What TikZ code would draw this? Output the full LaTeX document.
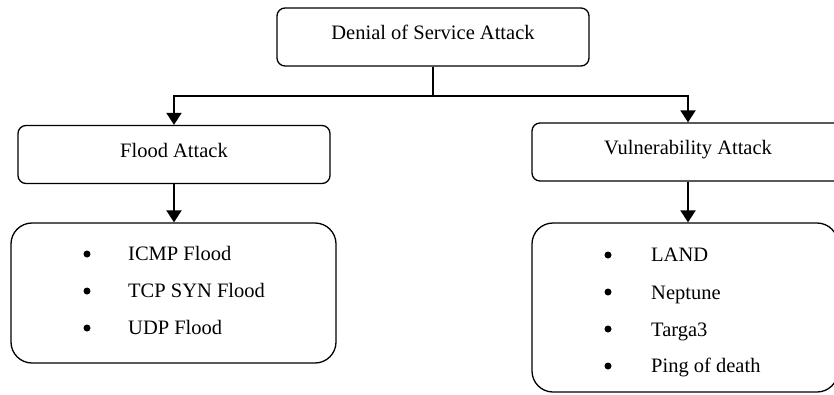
\documentclass[tikz,border=0pt]{standalone}
\usepackage{fontspec}
\setmainfont{Liberation Serif}
\usetikzlibrary{arrows.meta}
\begin{document}
\begin{tikzpicture}[x=1pt,y=-1pt,
  font=\fontsize{20.5}{24}\selectfont,
  hbox/.style={draw, line width=1.3pt, rounded corners=8pt, minimum width=312pt, minimum height=58pt, inner sep=0pt, text height=12pt, text depth=7pt},
  lbox/.style={draw, line width=1.3pt, rounded corners=21pt, inner sep=0pt},
  conn/.style={line width=2pt},
  arr/.style={line width=2pt, -{Triangle[length=12pt,width=15pt]}},
  bul/.style={circle, fill=black, inner sep=0pt, minimum size=7pt},
  item/.style={anchor=base west, inner sep=0pt}]
\useasboundingbox (0,0) rectangle (834,394);
\clip (0,0) rectangle (834,394);
% headline boxes
\node[hbox] (top) at (433,37) {Denial of Service Attack};
\node[hbox] (flood) at (174,154.5) {Flood Attack};
\node[hbox] (vuln) at (688,152) {Vulnerability Attack};
% list boxes
\node[lbox, minimum width=325pt, minimum height=140pt] (llist) at (173.5,293) {};
\node[lbox, minimum width=306pt, minimum height=169pt] (rlist) at (685,307.5) {};
% connectors
\coordinate (j) at (433,96);
\draw[conn] (top.south) -- (j);
\draw[arr] (j) -| (flood.north);
\draw[arr] (j) -| (vuln.north);
\draw[arr] (flood.south) -- (flood.south |- llist.north);
\draw[arr] (vuln.south) -- (vuln.south |- rlist.north);
% left items
\node[bul] (lb1) at (87,254) {};
\node[bul] (lb2) at (87,291) {};
\node[bul] (lb3) at (87,328) {};
\node[item] (li1) at (128,260.7) {ICMP Flood};
\node[item] (li2) at (128,297.7) {TCP SYN Flood};
\node[item] (li3) at (128,334.5) {UDP Flood};
% right items
\node[bul] (rb1) at (608,255) {};
\node[bul] (rb2) at (608,292) {};
\node[bul] (rb3) at (608,329) {};
\node[bul] (rb4) at (608,366) {};
\node[item] (ri1) at (651,261.7) {LAND};
\node[item] (ri2) at (651,299) {Neptune};
\node[item] (ri3) at (651,336) {Targa3};
\node[item] (ri4) at (651,372.7) {Ping of death};
\end{tikzpicture}
\end{document}
